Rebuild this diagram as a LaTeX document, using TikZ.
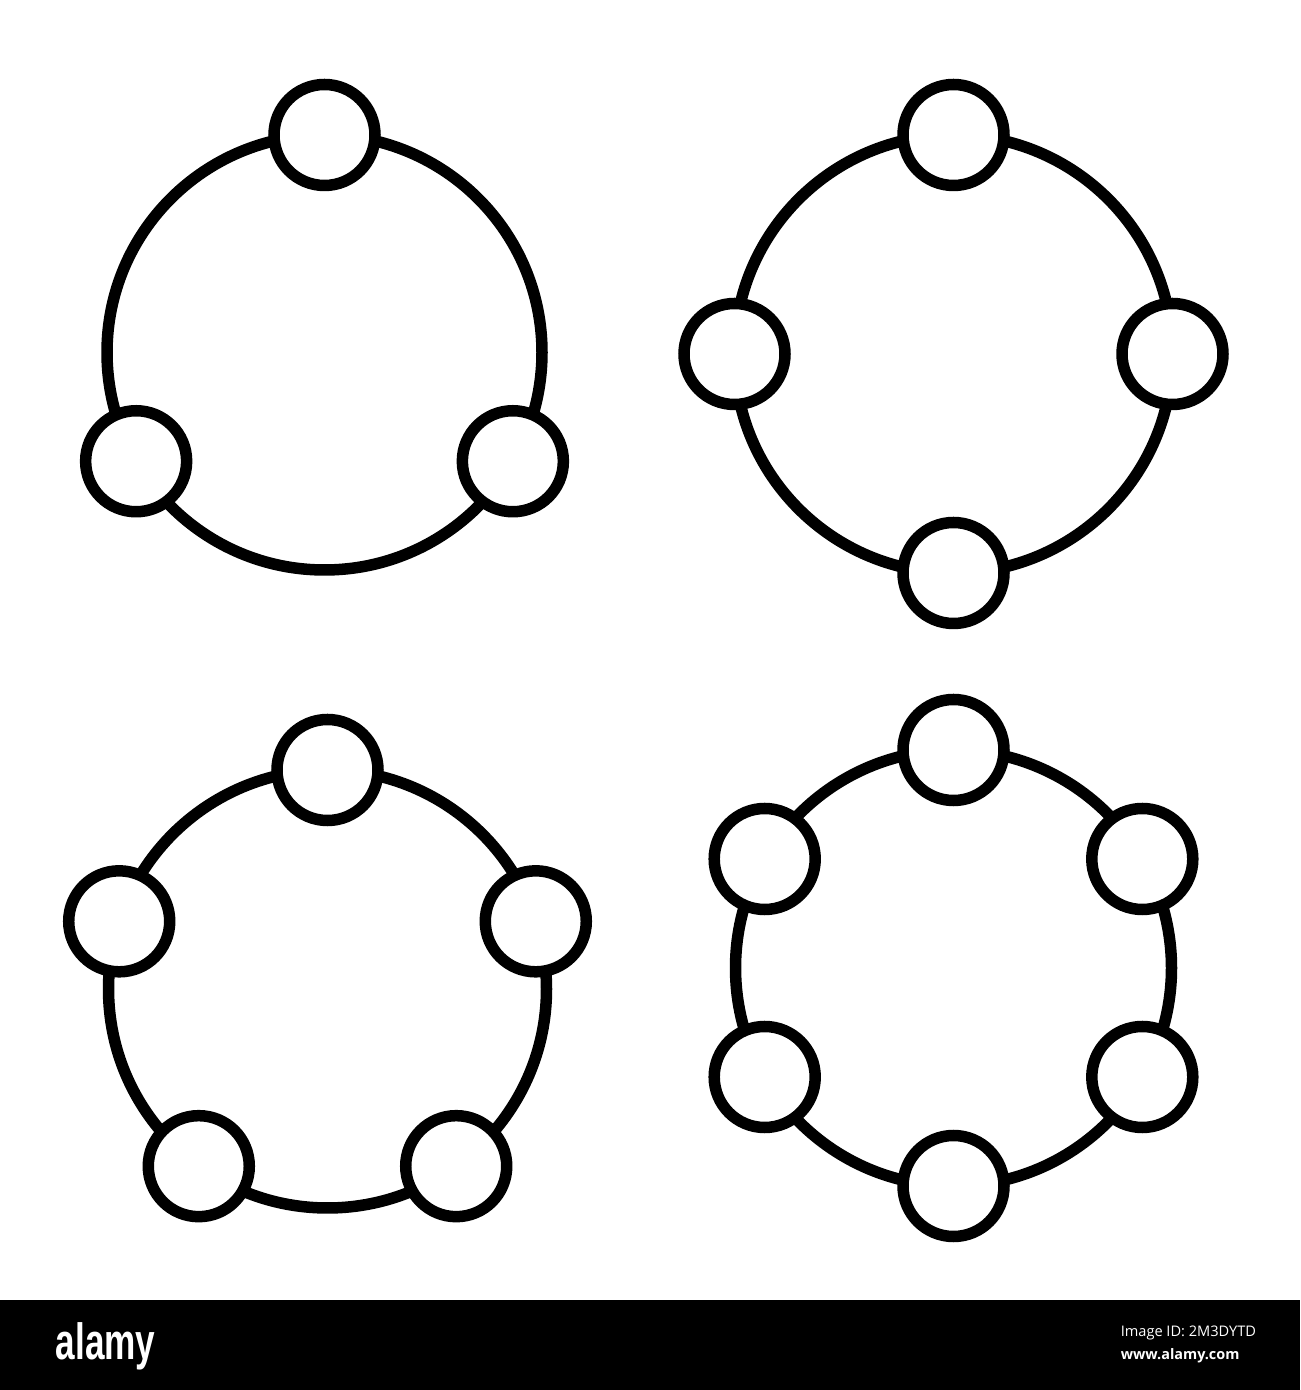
\documentclass[tikz,border=0pt]{standalone}
\usepackage{fontspec}
\setmainfont{Liberation Sans}
\newfontfamily\idfont{Open Sans}
\tikzset{
  ring/.style={draw=black},
  dot/.style={circle, draw=black, fill=white, inner sep=0pt, minimum size=20.2mm},
  stamp/.style={text=white, inner sep=0pt, anchor=base west}
}
\begin{document}
\begin{tikzpicture}[x=0.2mm, y=0.2mm, line width=2.3mm]
    \fill[white] (0,0) rectangle (1300,1390);
    \fill[black] (0,0) rectangle (1300,90);
    \foreach \grp/\cx/\cy/\r/\n in {
      tl/324.5/1037.5/217.5/3,
      tr/953.5/1036/219/4,
      bl/327.5/401/219/5,
      br/953.5/422/218/6}
      {
        \draw[ring] (\cx,\cy) circle (\r);
        \foreach \k in {1,...,\n}
          \node[dot] (\grp-\k) at ({\cx+\r*cos(90+360*(\k-1)/\n)}, {\cy+\r*sin(90+360*(\k-1)/\n)}) {};
      }
    \node[stamp, font=\bfseries\fontsize{29}{29}\selectfont] (logo) at (50,30) {\scalebox{0.69}[1]{alamy}};
    \node[stamp, font=\idfont\fontsize{8.3}{8.3}\selectfont] (imgid) at (1115,53) {Image ID: 2M3DYTD};
    \node[stamp, font=\idfont\bfseries\fontsize{8.2}{8.2}\selectfont] (site) at (1115,30) {www.alamy.com};
  \end{tikzpicture}
\end{document}
